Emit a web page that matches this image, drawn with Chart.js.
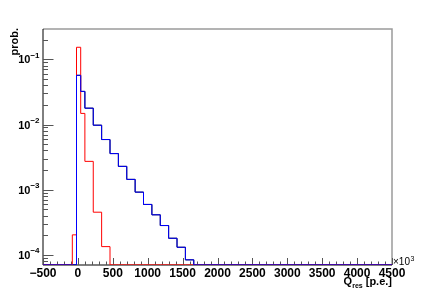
<!DOCTYPE html>
<html lang="en">
<head>
  <meta charset="UTF-8">
  <title>Q_res</title>
  <script src="https://cdn.jsdelivr.net/npm/chart.js@4.4.0/dist/chart.umd.min.js"></script>
  <style>
    html, body { margin: 0; padding: 0; background: #fff; }
    #wrap { width: 436px; height: 295px; }
  </style>
</head>
<body>
  <div id="wrap"><canvas id="chart_qres" width="436" height="295"></canvas></div>
  <script>
    // histogram bin edges (p.e., x10^3 on the axis)
    var binEdges = [-80, -20, 40, 100, 220, 340, 460, 580, 700, 820, 940, 1060, 1180, 1300, 1420, 1540, 1660];
    // one value per bin (0 = empty bin)
    var blueValues  = [0, 0.0568, 0.0322, 0.0178, 0.00976, 0.00588, 0.00358, 0.00228, 0.00144, 0.000918, 0.000594, 0.000412, 0.000282, 0.000180, 0.000131, 0.000084];
    var blackValues = [0, 0.0568, 0.0322, 0.0178, 0.00976, 0.00588, 0.00358, 0.00228, 0.00144, 0.000918, 0.000594, 0.000412, 0.000282, 0.000180, 0.000131, 0.000084];
    var redValues   = [0.000203, 0.153, 0.0148, 0.00272, 0.000452, 0.000134, 0, 0, 0, 0, 0, 0, 0, 0, 0, 0];

    var xTicks = [-500, 0, 500, 1000, 1500, 2000, 2500, 3000, 3500, 4000, 4500];
    var yDecades = [-1, -2, -3, -4];

    var xMin = -500, xMax = 4500;
    var yMin = 7.03e-5, yMax = 0.2917;

    // turn bins into step points (left edge of every bin), empty bins sit on the frame bottom
    function histPoints(values) {
      var pts = [{ x: xMin, y: yMin }];
      for (var i = 0; i < values.length; i++) {
        pts.push({ x: binEdges[i], y: values[i] > 0 ? values[i] : yMin });
      }
      pts.push({ x: binEdges[binEdges.length - 1], y: yMin });
      pts.push({ x: xMax, y: yMin });
      return pts;
    }

    var FONT = '"Liberation Sans", Arial, Helvetica, sans-serif';

    var rootFrame = {
      id: 'rootFrame',
      beforeDatasetsDraw: function(chart) {
        var ctx = chart.ctx, a = chart.chartArea, x = chart.scales.x, y = chart.scales.y;
        ctx.save();
        // top / right frame
        ctx.strokeStyle = '#9a9a9a';
        ctx.lineWidth = 1.5;
        ctx.beginPath();
        ctx.moveTo(a.left, a.top);
        ctx.lineTo(a.right, a.top);
        ctx.lineTo(a.right, a.bottom);
        ctx.stroke();
        // axes
        ctx.strokeStyle = '#000';
        ctx.lineWidth = 1;
        ctx.beginPath();
        ctx.moveTo(a.left, a.top);
        ctx.lineTo(a.left, a.bottom);
        ctx.lineTo(a.right, a.bottom);
        ctx.stroke();
        // x ticks (inward)
        ctx.strokeStyle = '#555';
        ctx.beginPath();
        for (var v = xMin; v <= xMax; v += 100) {
          var px = Math.round(x.getPixelForValue(v)) + 0.5;
          var len = (v % 500 === 0) ? 7 : 3.5;
          ctx.moveTo(px, a.bottom);
          ctx.lineTo(px, a.bottom - len);
        }
        ctx.stroke();
        // y ticks (inward)
        ctx.beginPath();
        for (var d = -5; d <= 0; d++) {
          for (var m = 1; m <= 9; m++) {
            var val = m * Math.pow(10, d);
            if (val < yMin || val > yMax) continue;
            var py = Math.round(y.getPixelForValue(val)) + 0.5;
            var l = (m === 1) ? 10.5 : 5;
            ctx.moveTo(a.left, py);
            ctx.lineTo(a.left + l, py);
          }
        }
        ctx.stroke();
        ctx.restore();
      },
      afterDraw: function(chart) {
        var ctx = chart.ctx, a = chart.chartArea, x = chart.scales.x, y = chart.scales.y;
        ctx.save();
        ctx.fillStyle = '#000';
        // x tick labels
        ctx.font = 'bold 12px ' + FONT;
        ctx.textAlign = 'center';
        ctx.textBaseline = 'alphabetic';
        xTicks.forEach(function(v) {
          var s = v < 0 ? '\u2212' + Math.abs(v) : String(v);
          ctx.fillText(s, x.getPixelForValue(v), 276.5);
        });
        // y tick labels 10^d
        yDecades.forEach(function(d) {
          var py = y.getPixelForValue(Math.pow(10, d));
          var sup = '\u2212' + Math.abs(d);
          ctx.font = 'bold 8px ' + FONT;
          ctx.textAlign = 'right';
          ctx.fillText(sup, 39.5, py - 1.5);
          var ws = ctx.measureText(sup).width;
          ctx.font = 'bold 11px ' + FONT;
          ctx.fillText('10', 39.5 - ws, py + 4);
        });
        // y title
        ctx.save();
        ctx.translate(17.8, 28);
        ctx.rotate(-Math.PI / 2);
        ctx.font = 'bold 11px ' + FONT;
        ctx.textAlign = 'right';
        ctx.fillText('prob.', 0, 0);
        ctx.restore();
        // x title  Q_res [p.e.]
        ctx.textAlign = 'left';
        ctx.font = 'bold 11px ' + FONT;
        var tail = ' [p.e.]';
        var wTail = ctx.measureText(tail).width;
        var wQ = ctx.measureText('Q').width;
        ctx.font = 'bold 7px ' + FONT;
        var wSub = ctx.measureText('res').width;
        var x0 = a.right - wTail - wSub - wQ;
        ctx.font = 'bold 11px ' + FONT;
        ctx.fillText('Q', x0, 285);
        ctx.font = 'bold 7px ' + FONT;
        ctx.fillText('res', x0 + wQ, 288);
        ctx.font = 'bold 11px ' + FONT;
        ctx.fillText(tail, x0 + wQ + wSub, 285);
        // exponent x10^3
        ctx.font = '10px ' + FONT;
        ctx.fillText('\u00d710', a.right + 1, 265);
        var w10 = ctx.measureText('\u00d710').width;
        ctx.font = '7px ' + FONT;
        ctx.fillText('3', a.right + 1.5 + w10, 260.5);
        ctx.restore();
      }
    };

    var ctx = document.getElementById('chart_qres').getContext('2d');
    var chart = new Chart(ctx, {
      type: 'line',
      data: {
        datasets: [
          { label: 'blue', data: histPoints(blueValues), borderColor: '#0000ff' },
          { label: 'red', data: histPoints(redValues), borderColor: '#ff0000' },
          { label: 'black', data: histPoints(blackValues), borderColor: '#000000' }
        ]
      },
      options: {
        responsive: false,
        animation: false,
        parsing: false,
        normalized: true,
        datasets: {
          line: { stepped: true, tension: 0, borderWidth: 1, pointRadius: 0, fill: false }
        },
        layout: { padding: { left: 43, top: 29, right: 44, bottom: 30 } },
        scales: {
          x: { type: 'linear', min: xMin, max: xMax, display: false },
          y: { type: 'logarithmic', min: yMin, max: yMax, display: false }
        },
        plugins: {
          legend: { display: false },
          tooltip: { enabled: false },
          title: { display: false }
        }
      },
      plugins: [rootFrame]
    });
  </script>
</body>
</html>
